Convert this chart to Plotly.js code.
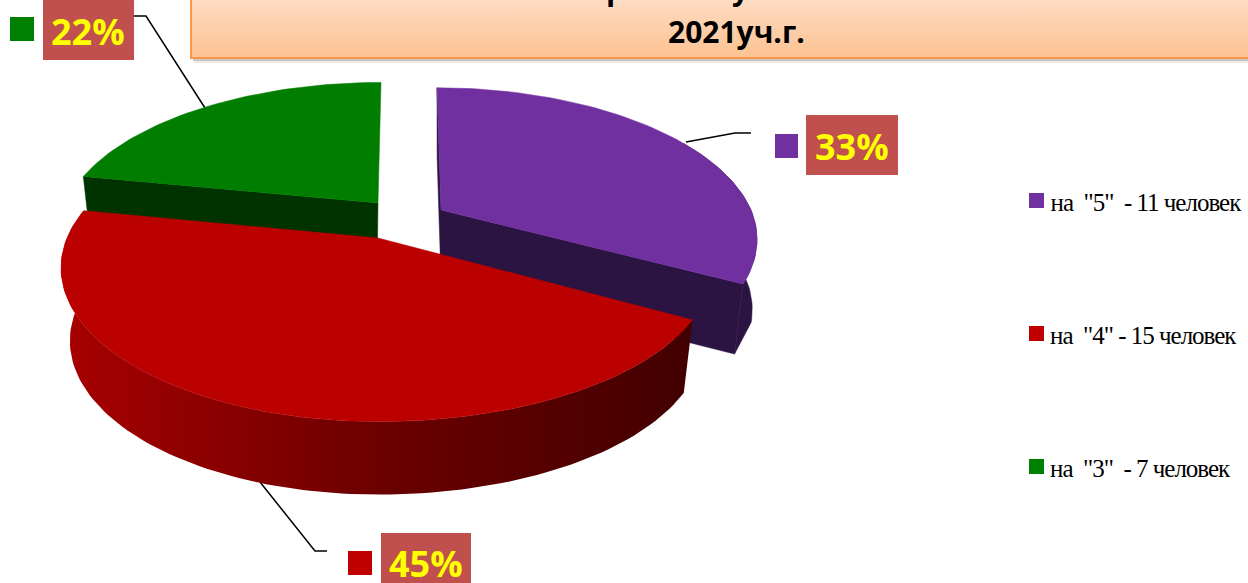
<!DOCTYPE html>
<html><head><meta charset="utf-8">
<script src="https://cdn.plot.ly/plotly-3.0.1.min.js"></script>
<style>
html,body{margin:0;padding:0;background:#fff;overflow:hidden}
#chart{width:1248px;height:583px}
.annotation[data-index="1"] text,.annotation[data-index="3"] text,.annotation[data-index="5"] text{letter-spacing:-1px}
</style></head><body><div id="chart"></div>
<script>
// Data
const categories = ['на "5"', 'на "4"', 'на "3"'];
const people = [11, 15, 7];
const percentLabels = ['33%', '45%', '22%'];
const legendLabels = ['на\u00A0\u00A0"5"\u00A0\u00A0-\u00A011\u00A0человек', 'на\u00A0\u00A0"4"\u00A0-\u00A015\u00A0человек', 'на\u00A0\u00A0"3"\u00A0\u00A0-\u00A07\u00A0человек'];
const titleLine = '2021уч.г.';
const titleCut = ['р', 'у'];

// Style and placement
const topColors = ['#7030a0', '#bb0000', '#017e00'];
const keyColors = ['#7030a0', '#c00000', '#008000'];
const wallColors = ['#2c1442', '#4a0000', '#003300'];
const sliceGeom = [
  {ax: 441, ay: 210, ar: 310, al: 310, b: 146, lean: -4, shrink: 0.972, depth: 70},
  {ax: 378, ay: 238, ar: 328, al: 311, b: 148, lean: 0, shrink: 0.972, depth: 73},
  {ax: 378, ay: 203, ar: 312, al: 312, b: 144, lean: 3, shrink: 0.972, depth: 73}
];
// small angular corrections of the drawn boundaries (view distortion of the 3D look)
const boundaryTweak = [[0, -2.5], [0, -2.6], [-2.6, 0]];
const P = 0.194;

const total = people.reduce((a, b) => a + b, 0);
const spans = []; let acc = 0;
people.forEach((v, i) => {
  const s = acc / total * 360; acc += v;
  spans.push([s + boundaryTweak[i][0], acc / total * 360 + boundaryTweak[i][1]]);
});

function proj(g, deg, low, shrink) {
  const t = deg * Math.PI / 180, u = Math.sin(t), v = Math.cos(t), w = 1 + P * v;
  let X = (u > 0.0001 ? g.ar : g.al) * u / w, Y = -g.b * v / w;
  X += g.lean * Math.max(v, 0);
  if (low) { X *= (shrink || g.shrink); Y += g.depth; }
  return [g.ax + X, g.ay + Y];
}
function arc(g, a, b, low, shrink) {
  const out = [], n = Math.max(4, Math.ceil(Math.abs(b - a) / 1.5));
  for (let i = 0; i <= n; i++) out.push(proj(g, a + (b - a) * i / n, low, shrink));
  return out;
}
function poly(pts, color, extra) {
  const closed = pts.concat([pts[0]]);
  return Object.assign({
    type: 'scatter', mode: 'lines', x: closed.map(p => p[0]), y: closed.map(p => p[1]),
    fill: 'toself', fillcolor: color, line: {color: color, width: 0.5},
    hoverinfo: 'skip', showlegend: false
  }, extra || {});
}
function leader(pts) {
  return {type: 'scatter', mode: 'lines', x: pts.map(p => p[0]), y: pts.map(p => p[1]),
    line: {color: '#000', width: 1.5}, hoverinfo: 'skip', showlegend: false};
}

const traces = [];
// title band
traces.push(poly([[191, -2], [1250, -2], [1250, 58], [191, 58]], '#fcc796', {
  fillgradient: {type: 'vertical', colorscale: [[0, '#fdc291'], [1, '#fddcc4']]},
  line: {color: '#f79646', width: 2}
}));
// leaders
traces.push(leader([[134, 16], [146, 16], [205, 108]]));
traces.push(leader([[686, 142], [735, 133], [751, 133]]));
traces.push(leader([[260, 482], [315, 551], [327, 551]]));

// green
let g = sliceGeom[2], s = spans[2];
traces.push(poly([proj(g, s[0]), [g.ax, g.ay], [g.ax - 1, g.ay + g.depth], proj(g, s[0], true)], wallColors[2]));
traces.push(poly(arc(g, s[0], s[1]).concat([[g.ax, g.ay]]), topColors[2]));
// purple
g = sliceGeom[0]; s = spans[0];
traces.push(poly([proj(g, 0), [g.ax, g.ay], [g.ax, g.ay + g.depth], proj(g, 0, true)], wallColors[0]));
traces.push(poly([[g.ax, g.ay], proj(g, s[1]), proj(g, s[1], true), [g.ax, g.ay + g.depth]], wallColors[0]));
traces.push(poly(arc(g, 60, s[1]).concat([proj(g, s[1], true)], arc(g, 106, 60, true, 0.985)), wallColors[0]));
traces.push(poly(arc(g, s[0], s[1]).concat([[g.ax, g.ay]]), topColors[0]));
// red
g = sliceGeom[1]; s = spans[1];
traces.push(poly(arc(g, s[0], s[1]).concat(arc(g, s[1], s[0], true)), '#7a0000', {
  fillgradient: {type: 'horizontal', colorscale: [[0, '#a80000'], [0.5, '#6c0000'], [1, '#420000']]},
  line: {color: 'rgba(0,0,0,0)', width: 0}
}));
traces.push(poly(arc(g, s[0], s[1]).concat([[g.ax, g.ay]]), topColors[1]));

const rect = (x0, y0, x1, y1, color) => ({type: 'rect', xref: 'x', yref: 'y', x0, y0, x1, y1, fillcolor: color, line: {width: 0}, layer: 'above'});
const shapes = [
  {type: 'rect', xref: 'x', yref: 'y', x0: 193, y0: 58, x1: 1250, y1: 61, fillcolor: 'rgba(0,0,0,0.22)', line: {width: 0}, layer: 'below'},
  {type: 'rect', xref: 'x', yref: 'y', x0: 194, y0: 61, x1: 1250, y1: 63, fillcolor: 'rgba(0,0,0,0.08)', line: {width: 0}, layer: 'below'}
];
const labelBoxes = [[806, 115, 898, 175], [381, 533, 471, 584], [43, -1, 134, 60]];
const keySquares = [[775, 134, 798, 158], [348, 551, 372, 575], [10, 17, 34, 41]];
const labelCentres = [[852, 146], [426, 563], [88, 31]];
const legendY = [200.5, 333.5, 466.5];
const annotations = [];
percentLabels.forEach((t, i) => {
  const b = labelBoxes[i], k = keySquares[i];
  shapes.push(rect(b[0], b[1], b[2], b[3], '#c0504d'));
  shapes.push(rect(k[0], k[1], k[2], k[3], keyColors[i]));
  annotations.push({x: labelCentres[i][0], y: labelCentres[i][1], xref: 'x', yref: 'y', text: '<b>' + t + '</b>', showarrow: false,
    font: {family: '"Open Sans", sans-serif', size: 36, color: '#ffff00'}});
  shapes.push(rect(1029, legendY[i] - 7.5, 1044, legendY[i] + 7.5, keyColors[i]));
  annotations.push({x: 1051, xshift: -13, y: legendY[i] + 2, xref: 'x', yref: 'y', xanchor: 'left', text: legendLabels[i], showarrow: false,
    font: {family: '"Liberation Serif", serif', size: 25, color: '#000'}});
});
annotations.push({x: 736, y: 31, xref: 'x', yref: 'y', text: '<b>' + titleLine + '</b>', showarrow: false,
  font: {family: '"Open Sans", sans-serif', size: 30, color: '#000'}});
[615, 741].forEach((x, i) => annotations.push({x, y: 11, xref: 'x', yref: 'y', yanchor: 'bottom', text: '<b>' + titleCut[i] + '</b>', showarrow: false,
  font: {family: '"Open Sans", sans-serif', size: 30, color: '#000'}}));

Plotly.newPlot('chart', traces, {
  width: 1248, height: 583, margin: {l: 0, r: 0, t: 0, b: 0},
  paper_bgcolor: '#fff', plot_bgcolor: '#fff', showlegend: false,
  xaxis: {range: [0, 1248], visible: false, fixedrange: true},
  yaxis: {range: [583, 0], visible: false, fixedrange: true},
  shapes, annotations
}, {displayModeBar: false, staticPlot: true});
</script></body></html>
